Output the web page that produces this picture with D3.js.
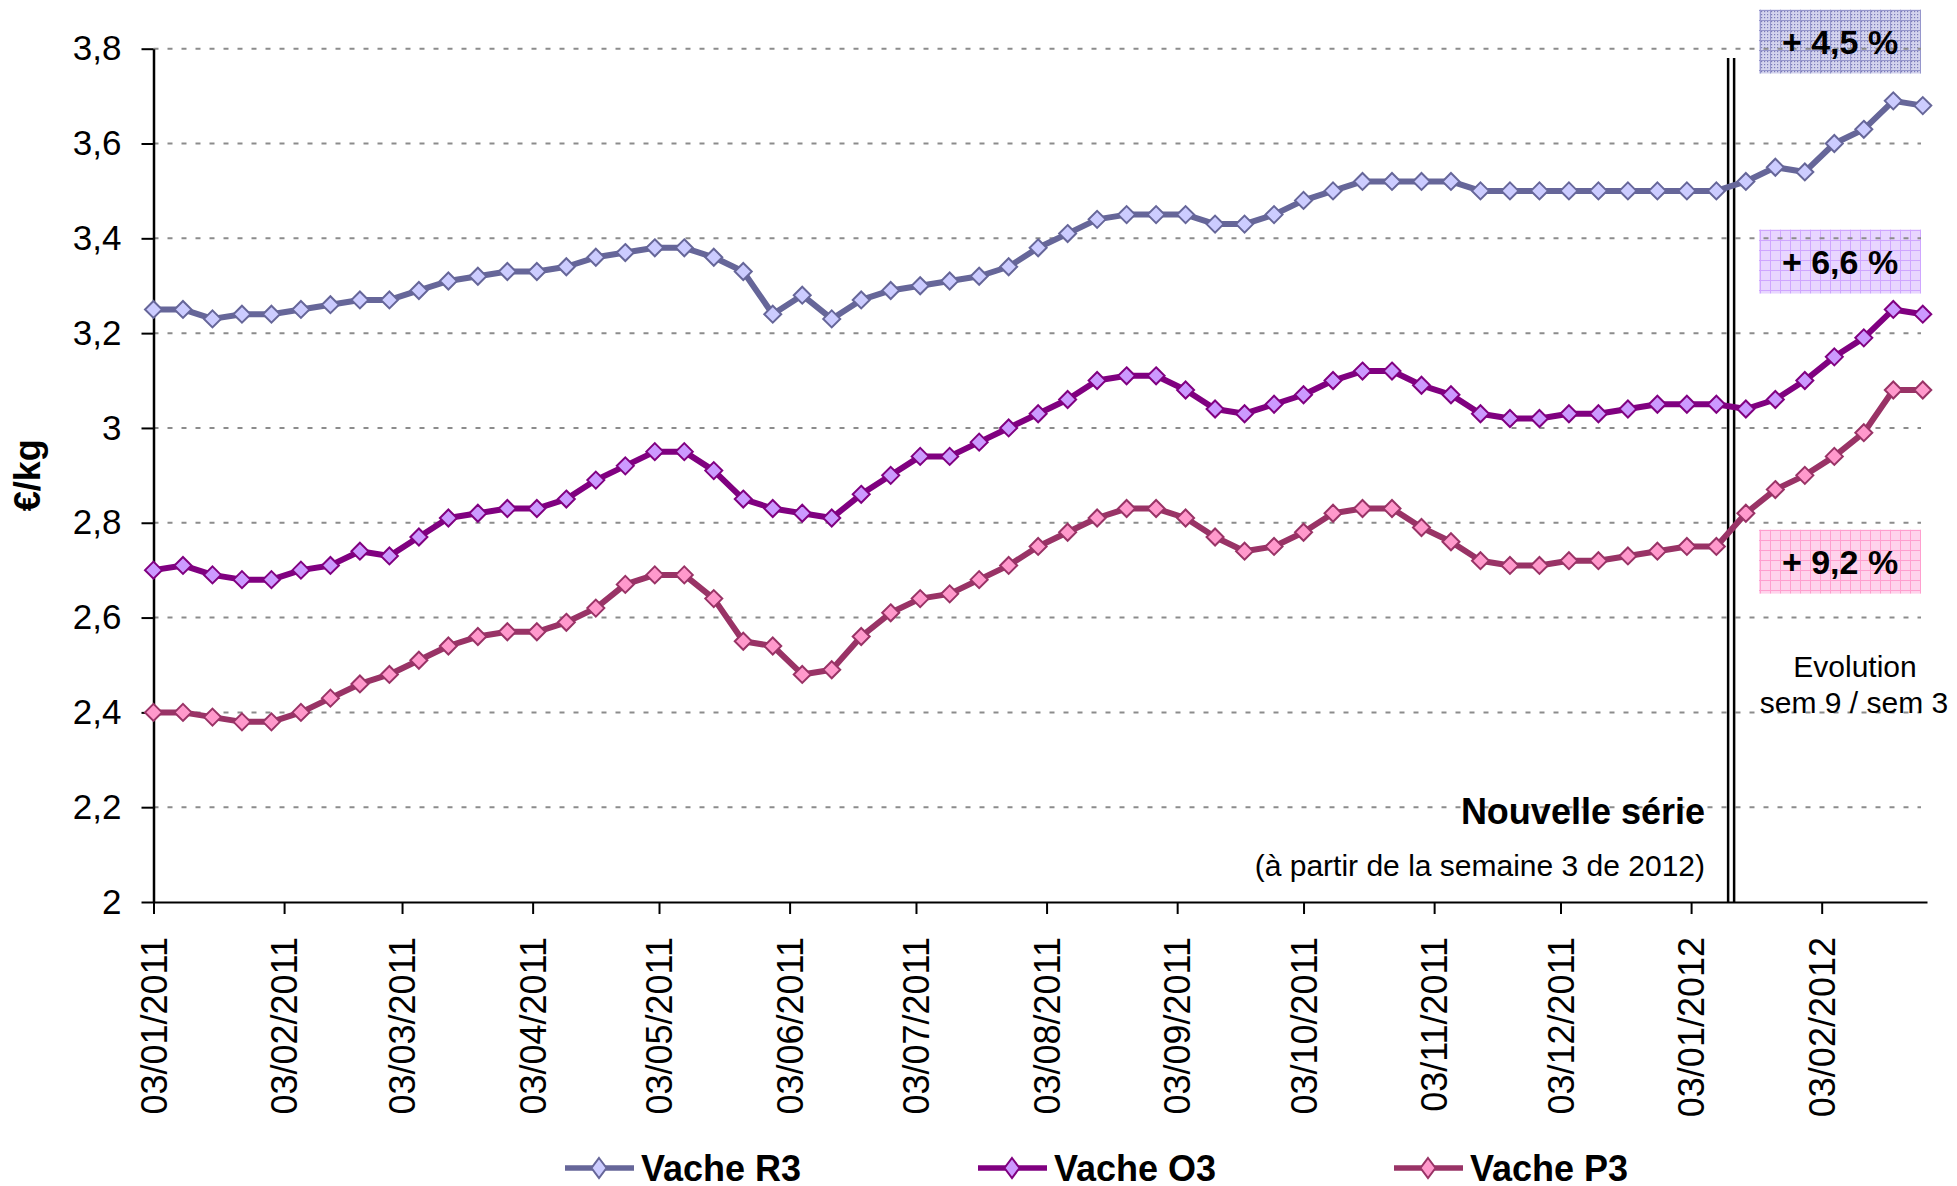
<!DOCTYPE html>
<html>
<head>
<meta charset="utf-8">
<script src="https://cdn.jsdelivr.net/npm/d3@7"></script>
<style>
    html, body { margin: 0; padding: 0; background: #fff; }
    svg { display: block; font-family: "Liberation Sans", Arial, sans-serif; }
</style>
</head>
<body>
<svg id="chart"></svg>
<script>
// weekly quotations (Monday of each week)
const weeks = [
    "2011-01-03", "2011-01-10", "2011-01-17", "2011-01-24", "2011-01-31",
    "2011-02-07", "2011-02-14", "2011-02-21", "2011-02-28",
    "2011-03-07", "2011-03-14", "2011-03-21", "2011-03-28",
    "2011-04-04", "2011-04-11", "2011-04-18", "2011-04-25",
    "2011-05-02", "2011-05-09", "2011-05-16", "2011-05-23", "2011-05-30",
    "2011-06-06", "2011-06-13", "2011-06-20", "2011-06-27",
    "2011-07-04", "2011-07-11", "2011-07-18", "2011-07-25",
    "2011-08-01", "2011-08-08", "2011-08-15", "2011-08-22", "2011-08-29",
    "2011-09-05", "2011-09-12", "2011-09-19", "2011-09-26",
    "2011-10-03", "2011-10-10", "2011-10-17", "2011-10-24", "2011-10-31",
    "2011-11-07", "2011-11-14", "2011-11-21", "2011-11-28",
    "2011-12-05", "2011-12-12", "2011-12-19", "2011-12-26",
    "2012-01-02", "2012-01-09", "2012-01-16", "2012-01-23", "2012-01-30",
    "2012-02-06", "2012-02-13", "2012-02-20", "2012-02-27"
];

const vacheR3 = [
    3.25, 3.25, 3.23, 3.24, 3.24, 3.25, 3.26, 3.27, 3.27, 3.29, 3.31, 3.32, 3.33, 3.33, 3.34, 3.36,
    3.37, 3.38, 3.38, 3.36, 3.33, 3.24, 3.28, 3.23, 3.27, 3.29, 3.30, 3.31, 3.32, 3.34, 3.38,
    3.41, 3.44, 3.45, 3.45, 3.45, 3.43, 3.43, 3.45, 3.48, 3.50, 3.52, 3.52, 3.52, 3.52, 3.50,
    3.50, 3.50, 3.50, 3.50, 3.50, 3.50, 3.50, 3.50, 3.52, 3.55, 3.54, 3.60, 3.63, 3.69, 3.68
];
const vacheO3 = [
    2.70, 2.71, 2.69, 2.68, 2.68, 2.70, 2.71, 2.74, 2.73, 2.77, 2.81, 2.82, 2.83, 2.83, 2.85, 2.89,
    2.92, 2.95, 2.95, 2.91, 2.85, 2.83, 2.82, 2.81, 2.86, 2.90, 2.94, 2.94, 2.97, 3.00, 3.03,
    3.06, 3.10, 3.11, 3.11, 3.08, 3.04, 3.03, 3.05, 3.07, 3.10, 3.12, 3.12, 3.09, 3.07, 3.03,
    3.02, 3.02, 3.03, 3.03, 3.04, 3.05, 3.05, 3.05, 3.04, 3.06, 3.10, 3.15, 3.19, 3.25, 3.24
];
const vacheP3 = [
    2.40, 2.40, 2.39, 2.38, 2.38, 2.40, 2.43, 2.46, 2.48, 2.51, 2.54, 2.56, 2.57, 2.57, 2.59, 2.62,
    2.67, 2.69, 2.69, 2.64, 2.55, 2.54, 2.48, 2.49, 2.56, 2.61, 2.64, 2.65, 2.68, 2.71, 2.75,
    2.78, 2.81, 2.83, 2.83, 2.81, 2.77, 2.74, 2.75, 2.78, 2.82, 2.83, 2.83, 2.79, 2.76, 2.72,
    2.71, 2.71, 2.72, 2.72, 2.73, 2.74, 2.75, 2.75, 2.82, 2.87, 2.90, 2.94, 2.99, 3.08, 3.08
];

const seriesNames = ["Vache R3", "Vache O3", "Vache P3"];
const evolutionLabels = ["+ 4,5 %", "+ 6,6 %", "+ 9,2 %"];
const evolutionLevels = [3.815, 3.351, 2.718];   // where each box sits on the value axis

const monthTicks = [
    "2011-01-03", "2011-02-03", "2011-03-03", "2011-04-03", "2011-05-03", "2011-06-03", "2011-07-03",
    "2011-08-03", "2011-09-03", "2011-10-03", "2011-11-03", "2011-12-03", "2012-01-03", "2012-02-03"
];
const yTicks = [2, 2.2, 2.4, 2.6, 2.8, 3, 3.2, 3.4, 3.6, 3.8];
const xDomain = ["2011-01-03", "2012-02-28"];
const lastOldWeek = "2012-01-09";
const firstNewWeek = "2012-01-16";

const colors = [
    {line: "#666699", fill: "#ccccff"},
    {line: "#800080", fill: "#cc99ff"},
    {line: "#993366", fill: "#ff99cc"}
];

const W = 1957, H = 1186;
const parse = d3.utcParse("%Y-%m-%d");
const svg = d3.select("#chart").attr("width", W).attr("height", H);
svg.append("rect").attr("width", W).attr("height", H).attr("fill", "#fff");

const x = d3.scaleUtc().domain(xDomain.map(parse)).range([153.5, 1927]);
const y = d3.scaleLinear().domain([2, 3.8]).range([902, 48.7]);
const gridRight = 1921;

// box patterns
const defs = svg.append("defs");
function gridPattern(id, bg, line, dots)
{
    const p = defs.append("pattern").attr("id", id)
        .attr("patternUnits", "userSpaceOnUse").attr("width", 10).attr("height", 10);
    p.append("rect").attr("width", 10).attr("height", 10).attr("fill", bg);
    if (dots) {
        for (let i = 0; i < 10; i += 3) {
            for (let j = 0; j < 10; j += 3) {
                p.append("rect").attr("x", i + 1).attr("y", j + 1).attr("width", 1.2).attr("height", 1.2)
                    .attr("fill", dots);
            }
        }
    }
    p.append("path").attr("d", "M0,0.5H10M0.5,0V10").attr("stroke", line).attr("stroke-width", 1);
}
gridPattern("patR3", "#d4d4ee", "#9696cc", "#7c7cb8");
gridPattern("patO3", "#e8d6ff", "#cfa6ff", null);
gridPattern("patP3", "#ffd3ec", "#ff9fcf", null);
const patterns = ["url(#patR3)", "url(#patO3)", "url(#patP3)"];

// evolution boxes
const boxW = 162, boxH = 64, boxCx = 1840;
const boxes = svg.append("g").attr("class", "boxes");
evolutionLevels.forEach((v, i) => {
    boxes.append("rect")
        .attr("x", boxCx - boxW / 2)
        .attr("y", y(v) - boxH / 2)
        .attr("width", boxW)
        .attr("height", boxH)
        .attr("fill", patterns[i]);
});

// gridlines
svg.append("g").attr("class", "grid")
    .selectAll("line")
    .data(yTicks.filter(d => d > 2))
    .join("line")
    .attr("x1", x.range()[0])
    .attr("x2", gridRight)
    .attr("y1", d => y(d))
    .attr("y2", d => y(d))
    .attr("stroke", "#8c8c8c")
    .attr("stroke-width", 2)
    .attr("stroke-dasharray", "5,9");

// axes
const fmtY = d => String(+d.toFixed(1)).replace(".", ",");
const yAxis = svg.append("g")
    .attr("transform", `translate(${x.range()[0]},0)`)
    .call(d3.axisLeft(y).tickValues(yTicks).tickSize(12).tickSizeOuter(0).tickPadding(20).tickFormat(fmtY));
yAxis.select(".domain").attr("stroke", "#000").attr("stroke-width", 2.5);
yAxis.selectAll(".tick line").attr("stroke", "#000").attr("stroke-width", 2);
yAxis.selectAll("text").attr("font-size", 35).attr("fill", "#000").attr("font-family", null);

const xAxis = svg.append("g")
    .attr("transform", `translate(0,${y(2)})`)
    .call(d3.axisBottom(x).tickValues(monthTicks.map(parse)).tickSize(12).tickSizeOuter(0)
        .tickFormat(d3.utcFormat("%d/%m/%Y")));
xAxis.select(".domain").attr("stroke", "#000").attr("stroke-width", 2);
xAxis.selectAll(".tick line").attr("stroke", "#000").attr("stroke-width", 2);
xAxis.selectAll("text")
    .attr("font-size", 36)
    .attr("fill", "#000")
    .attr("font-family", null)
    .attr("transform", "rotate(-90)")
    .attr("x", -35)
    .attr("y", 0)
    .attr("dy", "0.35em")
    .attr("text-anchor", "end");

svg.append("text")
    .attr("transform", `translate(40,${y(2.9)}) rotate(-90)`)
    .attr("text-anchor", "middle")
    .attr("font-size", 36)
    .attr("font-weight", "bold")
    .text("€/kg");

// break between old and new series
const breakX = (x(parse(lastOldWeek)) + x(parse(firstNewWeek))) / 2;
[-3, 3].forEach(dx => {
    svg.append("line")
        .attr("x1", breakX + dx).attr("x2", breakX + dx)
        .attr("y1", 58).attr("y2", y(2))
        .attr("stroke", "#000").attr("stroke-width", 2.5);
});

// series
const allSeries = [vacheR3, vacheO3, vacheP3];
const dates = weeks.map(parse);
const diamond = "M0,-8.5L8.5,0L0,8.5L-8.5,0Z";
const line = d3.line().x((d, i) => x(dates[i])).y(d => y(d));

allSeries.forEach((values, k) => {
    const g = svg.append("g").attr("class", "series");
    g.append("path")
        .attr("d", line(values))
        .attr("fill", "none")
        .attr("stroke", colors[k].line)
        .attr("stroke-width", 6)
        .attr("stroke-linejoin", "round");
    g.selectAll("path.marker")
        .data(values)
        .join("path")
        .attr("class", "marker")
        .attr("d", diamond)
        .attr("transform", (d, i) => `translate(${x(dates[i])},${y(d)})`)
        .attr("fill", colors[k].fill)
        .attr("stroke", colors[k].line)
        .attr("stroke-width", 2);
});

// box labels
evolutionLevels.forEach((v, i) => {
    svg.append("text")
        .attr("x", boxCx)
        .attr("y", y(v) + 12)
        .attr("text-anchor", "middle")
        .attr("font-size", 34)
        .attr("font-weight", "bold")
        .text(evolutionLabels[i]);
});

svg.append("text").attr("x", 1855).attr("y", 677)
    .attr("text-anchor", "middle").attr("font-size", 30).text("Evolution");
svg.append("text").attr("x", 1854).attr("y", 713)
    .attr("text-anchor", "middle").attr("font-size", 30).text("sem 9 / sem 3");

svg.append("text").attr("x", 1705).attr("y", 824)
    .attr("text-anchor", "end").attr("font-size", 36).attr("font-weight", "bold")
    .text("Nouvelle série");
svg.append("text").attr("x", 1705).attr("y", 876)
    .attr("text-anchor", "end").attr("font-size", 30)
    .text("(à partir de la semaine 3 de 2012)");

// legend (cut by the bottom edge, as in the original)
const legendX = [565, 978, 1394];
const legend = svg.append("g").attr("class", "legend");
seriesNames.forEach((name, k) => {
    const g = legend.append("g").attr("transform", `translate(${legendX[k]},1168)`);
    g.append("line").attr("x1", 0).attr("x2", 69).attr("y1", 0).attr("y2", 0)
        .attr("stroke", colors[k].line).attr("stroke-width", 5.5);
    g.append("path").attr("d", "M0,-10L7.5,0L0,10L-7.5,0Z")
        .attr("transform", "translate(34,0)")
        .attr("fill", colors[k].fill).attr("stroke", colors[k].line).attr("stroke-width", 2);
    g.append("text").attr("x", 76).attr("y", 13)
        .attr("font-size", 36).attr("font-weight", "bold").text(name);
});
</script>
</body>
</html>
